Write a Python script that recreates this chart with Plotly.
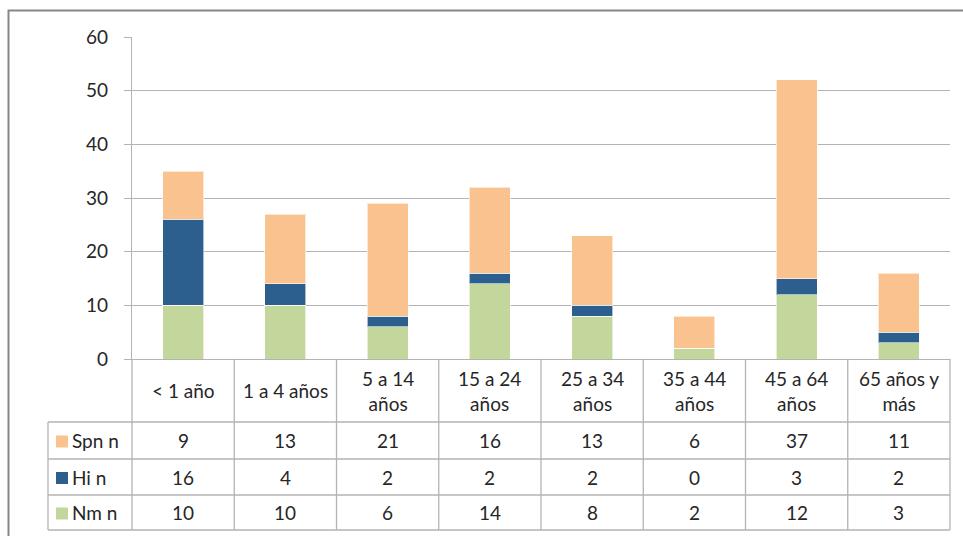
import plotly.graph_objects as go

categories = ["< 1 año", "1 a 4 años", "5 a 14<br>años", "15 a 24<br>años",
              "25 a 34<br>años", "35 a 44<br>años", "45 a 64<br>años", "65 años y<br>más"]
series_names = ["Spn n", "Hi n", "Nm n"]
spn = [9, 13, 21, 16, 13, 6, 37, 11]
hi = [16, 4, 2, 2, 2, 0, 3, 2]
nm = [10, 10, 6, 14, 8, 2, 12, 3]
y_ticks = [0, 10, 20, 30, 40, 50, 60]

colors = {"Spn n": "#F9C28F", "Hi n": "#2C5E8E", "Nm n": "#C3D69B"}
values = {"Spn n": spn, "Hi n": hi, "Nm n": nm}

W, H = 963, 536
FONT = "Lato"
FS = 19
TXT = "#262626"
GRID = "#B3B3B3"

def px(x):
    return x / W

def py(y):
    return 1 - y / H

x_left, x_right = 132, 950
y_top, y_zero = 37, 359
rows_y = [422, 459, 495, 530]
tab_left = 48
n = len(categories)
colw = (x_right - x_left) / n

fig = go.Figure()
xs = list(range(n))
for name in ["Nm n", "Hi n", "Spn n"]:
    fig.add_trace(go.Bar(x=xs, y=values[name], name=name, marker_color=colors[name],
                         marker_line_color="rgba(255,255,255,0.6)", marker_line_width=1,
                         width=0.4, showlegend=False))

shapes = []
ann = []
line = dict(color=GRID, width=1.3)
# outer border
shapes.append(dict(type="rect", xref="paper", yref="paper", x0=px(8.5), x1=px(975),
                   y0=py(548), y1=py(10.5), line=dict(color="#868686", width=2)))
# horizontal table lines
for y in rows_y:
    shapes.append(dict(type="line", xref="paper", yref="paper", x0=px(tab_left), x1=px(x_right),
                       y0=py(y), y1=py(y), line=line))
# vertical table lines
for i in range(n + 1):
    xx = x_left + i * colw
    shapes.append(dict(type="line", xref="paper", yref="paper", x0=px(xx), x1=px(xx),
                       y0=py(y_zero), y1=py(rows_y[-1]), line=line))
shapes.append(dict(type="line", xref="paper", yref="paper", x0=px(tab_left), x1=px(tab_left),
                   y0=py(rows_y[0]), y1=py(rows_y[-1]), line=line))

# category labels
for i, c in enumerate(categories):
    ann.append(dict(xref="paper", yref="paper", x=px(x_left + (i + 0.5) * colw),
                    y=py((y_zero + rows_y[0]) / 2), text=c, showarrow=False,
                    font=dict(family=FONT, size=FS, color=TXT), align="center",
                    xanchor="center", yanchor="middle"))
# rows
for r, name in enumerate(series_names):
    yc = (rows_y[r] + rows_y[r + 1]) / 2
    shapes.append(dict(type="rect", xref="paper", yref="paper", x0=px(56), x1=px(68),
                       y0=py(yc + 7), y1=py(yc - 5), fillcolor=colors[name], line=dict(width=0)))
    ann.append(dict(xref="paper", yref="paper", x=px(70), y=py(yc), text=name, showarrow=False,
                    font=dict(family=FONT, size=FS, color=TXT), xanchor="left", yanchor="middle"))
    for i, v in enumerate(values[name]):
        ann.append(dict(xref="paper", yref="paper", x=px(x_left + (i + 0.5) * colw), y=py(yc),
                        text=str(v), showarrow=False,
                        font=dict(family=FONT, size=FS, color=TXT),
                        xanchor="center", yanchor="middle"))

fig.update_layout(
    width=W, height=H, margin=dict(l=0, r=0, t=0, b=0, autoexpand=False),
    paper_bgcolor="white", plot_bgcolor="white", barmode="stack",
    xaxis=dict(domain=[px(x_left), px(x_right)], range=[-0.5, n - 0.5], showticklabels=False,
               showgrid=False, zeroline=False, showline=True, linecolor=GRID, linewidth=1.3,
               ticks="", fixedrange=True, automargin=False),
    yaxis=dict(domain=[py(y_zero), py(y_top)], range=[0, 60], tickvals=y_ticks,
               showgrid=True, gridcolor=GRID, gridwidth=1.3, zeroline=False,
               showline=True, linecolor=GRID, linewidth=1.3, ticks="outside", ticklen=7,
               tickcolor=GRID, tickwidth=1.3, automargin=False, ticklabelstandoff=12,
               tickfont=dict(family=FONT, size=FS, color=TXT)),
    shapes=shapes, annotations=ann,
)
fig.write_html("out.html")
